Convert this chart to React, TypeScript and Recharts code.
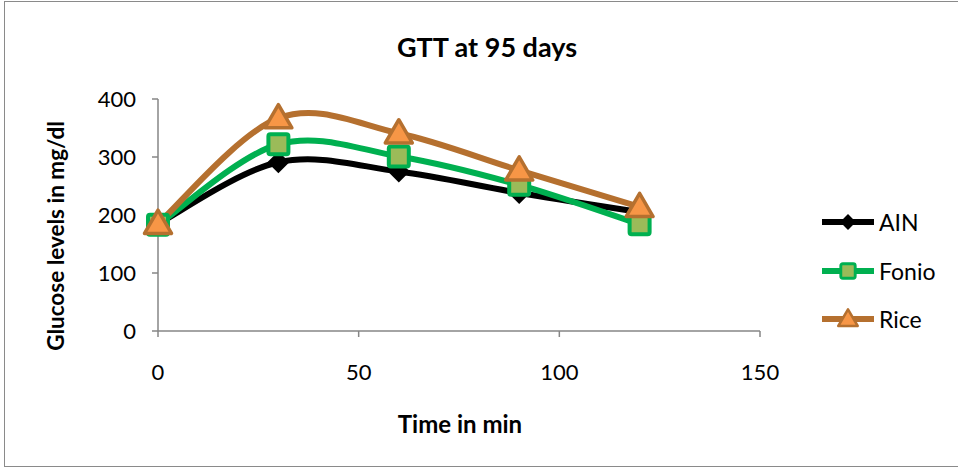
import React from "react";
import { Line, LineChart, XAxis, YAxis } from "recharts";

const times = [0, 30, 60, 90, 120];
const ainValues = [185, 291, 275, 238, 205];
const fonioValues = [183, 322, 301, 252, 184];
const riceValues = [185, 367, 341, 277, 214];

const xTicks = [0, 50, 100, 150];
const yTicks = [0, 100, 200, 300, 400];

const seriesInfo = [
  { key: "AIN", color: "#000000", fill: "#000000", shape: "diamond" },
  { key: "Fonio", color: "#00B050", fill: "#9BBB59", shape: "square" },
  { key: "Rice", color: "#B5702F", fill: "#F79646", shape: "triangle" }
];

const data = times.map((t, i) => ({
  time: t,
  AIN: ainValues[i],
  Fonio: fonioValues[i],
  Rice: riceValues[i]
}));

const FONT = "Lato, 'Open Sans', sans-serif";
const AXIS = "#868686";

// smoothed line close to what the spreadsheet draws (catmull-rom style beziers)
function smoothCurve(context: any) {
  let pts: number[][] = [];
  return {
    areaStart() {},
    areaEnd() {},
    lineStart() {
      pts = [];
    },
    point(x: number, y: number) {
      pts.push([+x, +y]);
    },
    lineEnd() {
      const n = pts.length;
      if (!n) return;
      context.moveTo(pts[0][0], pts[0][1]);
      for (let i = 0; i < n - 1; i++) {
        const p0 = pts[Math.max(i - 1, 0)];
        const p1 = pts[i];
        const p2 = pts[i + 1];
        const p3 = pts[Math.min(i + 2, n - 1)];
        context.bezierCurveTo(
          p1[0] + (p2[0] - p0[0]) / 6,
          p1[1] + (p2[1] - p0[1]) / 6,
          p2[0] - (p3[0] - p1[0]) / 6,
          p2[1] - (p3[1] - p1[1]) / 6,
          p2[0],
          p2[1]
        );
      }
    }
  };
}

function Marker({ cx, cy, shape, color, fill, small }: any) {
  if (cx == null || cy == null) return null;
  const k = small ? 0.72 : 1;
  if (shape === "diamond") {
    const r = 11 * k;
    return <path d={`M${cx},${cy - r}L${cx + r},${cy}L${cx},${cy + r}L${cx - r},${cy}Z`} fill={fill} />;
  }
  if (shape === "square") {
    const r = 10 * k;
    return (
      <rect x={cx - r} y={cy - r} width={2 * r} height={2 * r} rx={2} fill={fill} stroke={color} strokeWidth={4 * k} />
    );
  }
  const r = 13.5 * k;
  return (
    <path
      d={`M${cx},${cy - r}L${cx + r},${cy + r * 0.72}L${cx - r},${cy + r * 0.72}Z`}
      fill={fill}
      stroke={color}
      strokeWidth={3.5 * k}
      strokeLinejoin="round"
    />
  );
}

function LegendBox() {
  return (
    <div style={{ fontFamily: FONT, fontSize: 23 }}>
      {seriesInfo.map((s) => (
        <div key={s.key} style={{ display: "flex", alignItems: "center", height: 48.5 }}>
          <svg width={57} height={30}>
            <line x1={0} y1={15} x2={52} y2={15} stroke={s.color} strokeWidth={6} />
            <Marker cx={26} cy={15} shape={s.shape} color={s.color} fill={s.fill} small />
          </svg>
          <span style={{ color: "#000" }}>{s.key}</span>
        </div>
      ))}
    </div>
  );
}

export default function App() {
  return (
    <div
      style={{
        position: "fixed",
        left: 0,
        top: 0,
        width: 958,
        height: 469,
        background: "#fff",
        fontFamily: FONT,
        overflow: "hidden"
      }}
    >
      <div
        style={{
          position: "absolute",
          left: 4,
          top: 1,
          width: 1000,
          height: 466,
          border: "1.5px solid #8a8a8a",
          boxSizing: "border-box"
        }}
      />
      <LineChart
        width={958}
        height={469}
        data={data}
        margin={{ top: 99, right: 198, left: 98, bottom: 108 }}
        style={{ position: "absolute", left: 0, top: 0 }}
      >
        <XAxis
          dataKey="time"
          type="number"
          domain={[0, 150]}
          ticks={xTicks}
          height={30}
          stroke={AXIS}
          strokeWidth={1.5}
          tickSize={6}
          tick={{ fill: "#000", fontSize: 22, fontFamily: FONT, dy: 25 }}
        />
        <YAxis
          domain={[0, 400]}
          ticks={yTicks}
          width={60}
          stroke={AXIS}
          strokeWidth={1.5}
          tickSize={6}
          tick={{ fill: "#000", fontSize: 22, fontFamily: FONT, dx: -14 }}
        />
        {seriesInfo.map((s) => (
          <Line
            key={s.key}
            dataKey={s.key}
            type={smoothCurve as any}
            stroke={s.color}
            strokeWidth={6}
            isAnimationActive={false}
            dot={(p: any) => (
              <Marker key={`${s.key}-${p.index}`} cx={p.cx} cy={p.cy} shape={s.shape} color={s.color} fill={s.fill} />
            )}
            activeDot={false}
          />
        ))}
      </LineChart>
      <div style={{ position: "absolute", left: 822, top: 198 }}>
        <LegendBox />
      </div>
      <svg width={958} height={469} style={{ position: "absolute", left: 0, top: 0, pointerEvents: "none" }}>
        <text x={487} y={57} textAnchor="middle" fontSize={27} fontWeight="bold" fontFamily={FONT}>
          GTT at 95 days
        </text>
        <text x={460} y={433} textAnchor="middle" fontSize={24} fontWeight="bold" fontFamily={FONT}>
          Time in min
        </text>
        <text
          x={0}
          y={0}
          transform="translate(64,236) rotate(-90)"
          textAnchor="middle"
          fontSize={22.5}
          fontWeight="bold"
          fontFamily={FONT}
        >
          Glucose levels in mg/dl
        </text>
      </svg>
    </div>
  );
}
